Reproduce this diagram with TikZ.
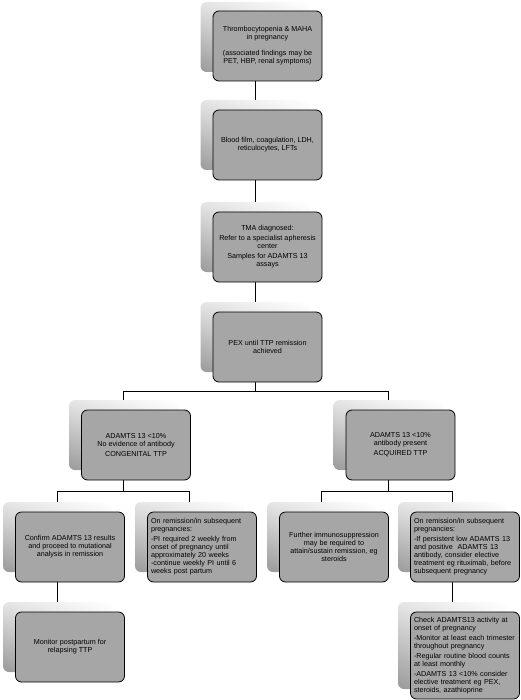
\documentclass[tikz,border=0pt]{standalone}
\usepackage{fontspec}
\setmainfont{Liberation Sans}
\usetikzlibrary{shadings}
\pgfdeclarelayer{back}
\pgfdeclarelayer{mid}
\pgfsetlayers{back,mid,main}
\definecolor{boxgray}{HTML}{A6A6A6}
\tikzset{
  backbox/.style={rectangle, rounded corners=6pt, minimum width=109pt, minimum height=70pt, inner sep=0pt,
    upper left=black!10, upper right=white, lower left=black!40, lower right=black!15, draw=none},
  frontbox/.style={rectangle, rounded corners=6pt, minimum width=109pt, minimum height=70pt, inner sep=3pt,
    draw=black, line width=0.8pt, fill=boxgray,
    font=\fontsize{7.2}{8}\selectfont, align=center},
  leftbox/.style={frontbox, align=left, text width=102pt, inner xsep=3.5pt},
  conn/.style={draw=black, line width=0.8pt}
}
\begin{document}
\begin{tikzpicture}[x=1pt,y=-1pt]
\useasboundingbox (0,0) rectangle (520,700);
\begin{pgfonlayer}{back}
\node[backbox] (n1) at (255,37) {};
\node[backbox] (n2) at (255,135) {};
\node[backbox] (n3) at (255,237) {};
\node[backbox] (n4) at (255,337) {};
\node[backbox] (n5) at (123.5,435) {};
\node[backbox] (n6) at (388,435) {};
\node[backbox] (n7) at (57.5,537) {};
\node[backbox] (n8) at (189.5,537) {};
\node[backbox] (n9) at (57.5,637) {};
\node[backbox] (n10) at (321.5,537) {};
\node[backbox] (n11) at (452.5,537) {};
\node[backbox, minimum height=87pt] (n12) at (452.5,645.5) {};
\end{pgfonlayer}

\node[frontbox] (f1) at ([shift={(12.5,9)}]n1.center) {Thrombocytopenia \& MAHA\\ in pregnancy\\[8pt] (associated findings may be\\ PET, HBP, renal symptoms)};
\node[frontbox] (f2) at ([shift={(12.5,10)}]n2.center) {Blood film, coagulation, LDH,\\ reticulocytes, LFTs};
\node[frontbox] (f3) at ([shift={(12.5,10)}]n3.center) {TMA diagnosed:\\[2pt] Refer to a specialist apheresis\\ center\\[2pt] Samples for ADAMTS 13\\ assays};
\node[frontbox] (f4) at ([shift={(12.5,10)}]n4.center) {PEX until TTP remission\\ achieved};
\node[frontbox] (f5) at ([shift={(12.5,10)}]n5.center) {ADAMTS 13 <10\%\\ No evidence of antibody\\[2pt] CONGENITAL TTP};
\node[frontbox] (f6) at ([shift={(12.5,10)}]n6.center) {ADAMTS 13 <10\%\\ antibody present\\[2pt] ACQUIRED TTP};
\node[frontbox] (f7) at ([shift={(12.5,10)}]n7.center) {Confirm ADAMTS 13 results\\ and proceed to mutational\\ analysis in remission};
\node[leftbox] (f8) at ([shift={(12.5,10)}]n8.center) {On remission/in subsequent\\ pregnancies:\\[2pt] -PI required 2 weekly from\\ onset of pregnancy until\\ approximately 20 weeks\\ -continue weekly PI until 6\\ weeks post partum};
\node[frontbox] (f9) at ([shift={(12.5,10)}]n9.center) {Monitor postpartum for\\ relapsing TTP};
\node[frontbox] (f10) at ([shift={(12.5,10)}]n10.center) {Further immunosuppression\\ may be required to\\ attain/sustain remission, eg\\ steroids};
\node[leftbox] (f11) at ([shift={(12.5,10)}]n11.center) {On remission/in subsequent\\ pregnancies:\\[2pt] -If persistent low ADAMTS 13\\ and positive\ \ ADAMTS 13\\ antibody, consider elective\\ treatment eg rituximab, before\\ subsequent pregnancy};
\node[leftbox, minimum height=87pt] (f12) at ([shift={(12.5,10)}]n12.center) {Check ADAMTS13 activity at\\ onset of pregnancy\\[2pt] -Monitor at least each trimester\\ throughout pregnancy\\[2pt] -Regular routine blood counts\\ at least monthly\\[2pt] -ADAMTS 13 <10\% consider\\ elective treatment eg PEX,\\ steroids, azathioprine};

\coordinate (j4) at (255,391);
\coordinate (j5) at (123.5,491);
\coordinate (j6) at (388,491);
\begin{pgfonlayer}{mid}
\draw[conn] (n1.center) -- (n2.north);
\draw[conn] (n2.center) -- (n3.north);
\draw[conn] (n3.center) -- (n4.north);
\draw[conn] (n4.center) -- (j4);
\draw[conn] (j4) -| (n5.north);
\draw[conn] (j4) -| (n6.north);
\draw[conn] (n5.center) -- (j5);
\draw[conn] (j5) -| (n7.north);
\draw[conn] (j5) -| (n8.north);
\draw[conn] (n6.center) -- (j6);
\draw[conn] (j6) -| (n10.north);
\draw[conn] (j6) -| (n11.north);
\draw[conn] (n7.center) -- (n9.north);
\draw[conn] (n11.center) -- (n12.north);
\end{pgfonlayer}
\end{tikzpicture}
\end{document}
